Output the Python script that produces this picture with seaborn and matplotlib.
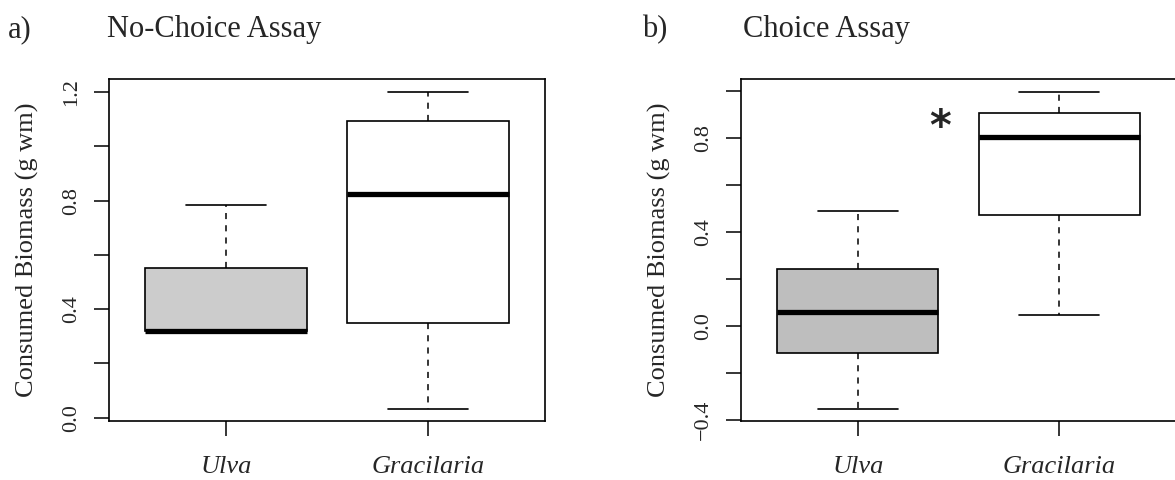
import numpy as np
import pandas as pd
import matplotlib
matplotlib.use("Agg")
import matplotlib.pyplot as plt
import seaborn as sns

# ---- data (five-number summaries) ----
categories = ["Ulva", "Gracilaria"]
nochoice_ulva = [0.32, 0.32, 0.32, 0.553, 0.783]
nochoice_gracilaria = [0.033, 0.348, 0.823, 1.092, 1.200]
choice_ulva = [-0.352, -0.115, 0.060, 0.244, 0.489]
choice_gracilaria = [0.048, 0.474, 0.804, 0.909, 0.997]

yticks_a = [0.0, 0.2, 0.4, 0.6, 0.8, 1.0, 1.2]
yticklabels_a = ["0.0", "", "0.4", "", "0.8", "", "1.2"]
yticks_b = [-0.4, -0.2, 0.0, 0.2, 0.4, 0.6, 0.8, 1.0]
yticklabels_b = ["\u22120.4", "", "0.0", "", "0.4", "", "0.8", ""]

titles = ["No-Choice Assay", "Choice Assay"]
panel_letters = ["a)", "b)"]
ylabel = "Consumed Biomass (g wm)"
colors_a = ["#CCCCCC", "#FFFFFF"]
colors_b = ["#BEBEBE", "#FFFFFF"]

sns.set_style("ticks")
plt.rcParams["font.family"] = ["Liberation Serif", "DejaVu Serif"]

W, H = 1175, 480
fig = plt.figure(figsize=(W / 100, H / 100), dpi=100)


def px_axes(x0, x1, y0, y1):
    return fig.add_axes([x0 / W, 1 - y1 / H, (x1 - x0) / W, (y1 - y0) / H])


def make_df(u, g):
    return pd.DataFrame({
        "species": [categories[0]] * len(u) + [categories[1]] * len(g),
        "value": list(u) + list(g),
    })


def draw(ax, df, colors, ylim, yticks, yticklabels):
    sns.boxplot(
        data=df, x="species", y="value", hue="species", order=categories,
        hue_order=categories, palette=colors, legend=False, ax=ax,
        width=0.8, whis=(0, 100), linecolor="black", linewidth=1.2,
        showfliers=False,
        medianprops=dict(color="black", linewidth=3.8, solid_capstyle="butt"),
        whiskerprops=dict(color="black", linewidth=1.1, linestyle=(0, (4, 4))),
        capprops=dict(color="black", linewidth=1.2),
        boxprops=dict(edgecolor="black", linewidth=1.2),
    )
    ax.set_xlim(-0.58, 1.58)
    ax.set_ylim(*ylim)
    ax.set_yticks(yticks)
    ax.set_yticklabels(yticklabels, rotation=90, va="center", fontsize=16)
    ax.set_xticks([0, 1])
    ax.set_xticklabels(categories, fontsize=19, style="italic")
    ax.tick_params(axis="both", direction="out", length=11, width=1.1,
                   color="black", pad=9)
    ax.tick_params(axis="x", pad=14)
    ax.set_xlabel("")
    ax.set_ylabel(ylabel, fontsize=19, labelpad=17)
    for s in ax.spines.values():
        s.set_visible(True)
        s.set_color("black")
        s.set_linewidth(1.2)


ax1 = px_axes(109, 545, 79, 421)
draw(ax1, make_df(nochoice_ulva, nochoice_gracilaria), colors_a,
     (-0.012, 1.248), yticks_a, yticklabels_a)

ax2 = px_axes(741, 1176, 79, 421)
draw(ax2, make_df(choice_ulva, choice_gracilaria), colors_b,
     (-0.403, 1.052), yticks_b, yticklabels_b)
ax2.text(0.408, 0.845, "*", fontsize=30, fontweight="bold",
         family="DejaVu Sans", ha="center", va="center")

fig.text(8 / W, 1 - 30 / H, panel_letters[0], fontsize=22, va="center", ha="left")
fig.text(107 / W, 1 - 30 / H, titles[0], fontsize=22, va="center", ha="left")
fig.text(642 / W, 1 - 30 / H, panel_letters[1], fontsize=22, va="center", ha="left")
fig.text(743 / W, 1 - 30 / H, titles[1], fontsize=22, va="center", ha="left")

fig.savefig("out.png", dpi=100)
